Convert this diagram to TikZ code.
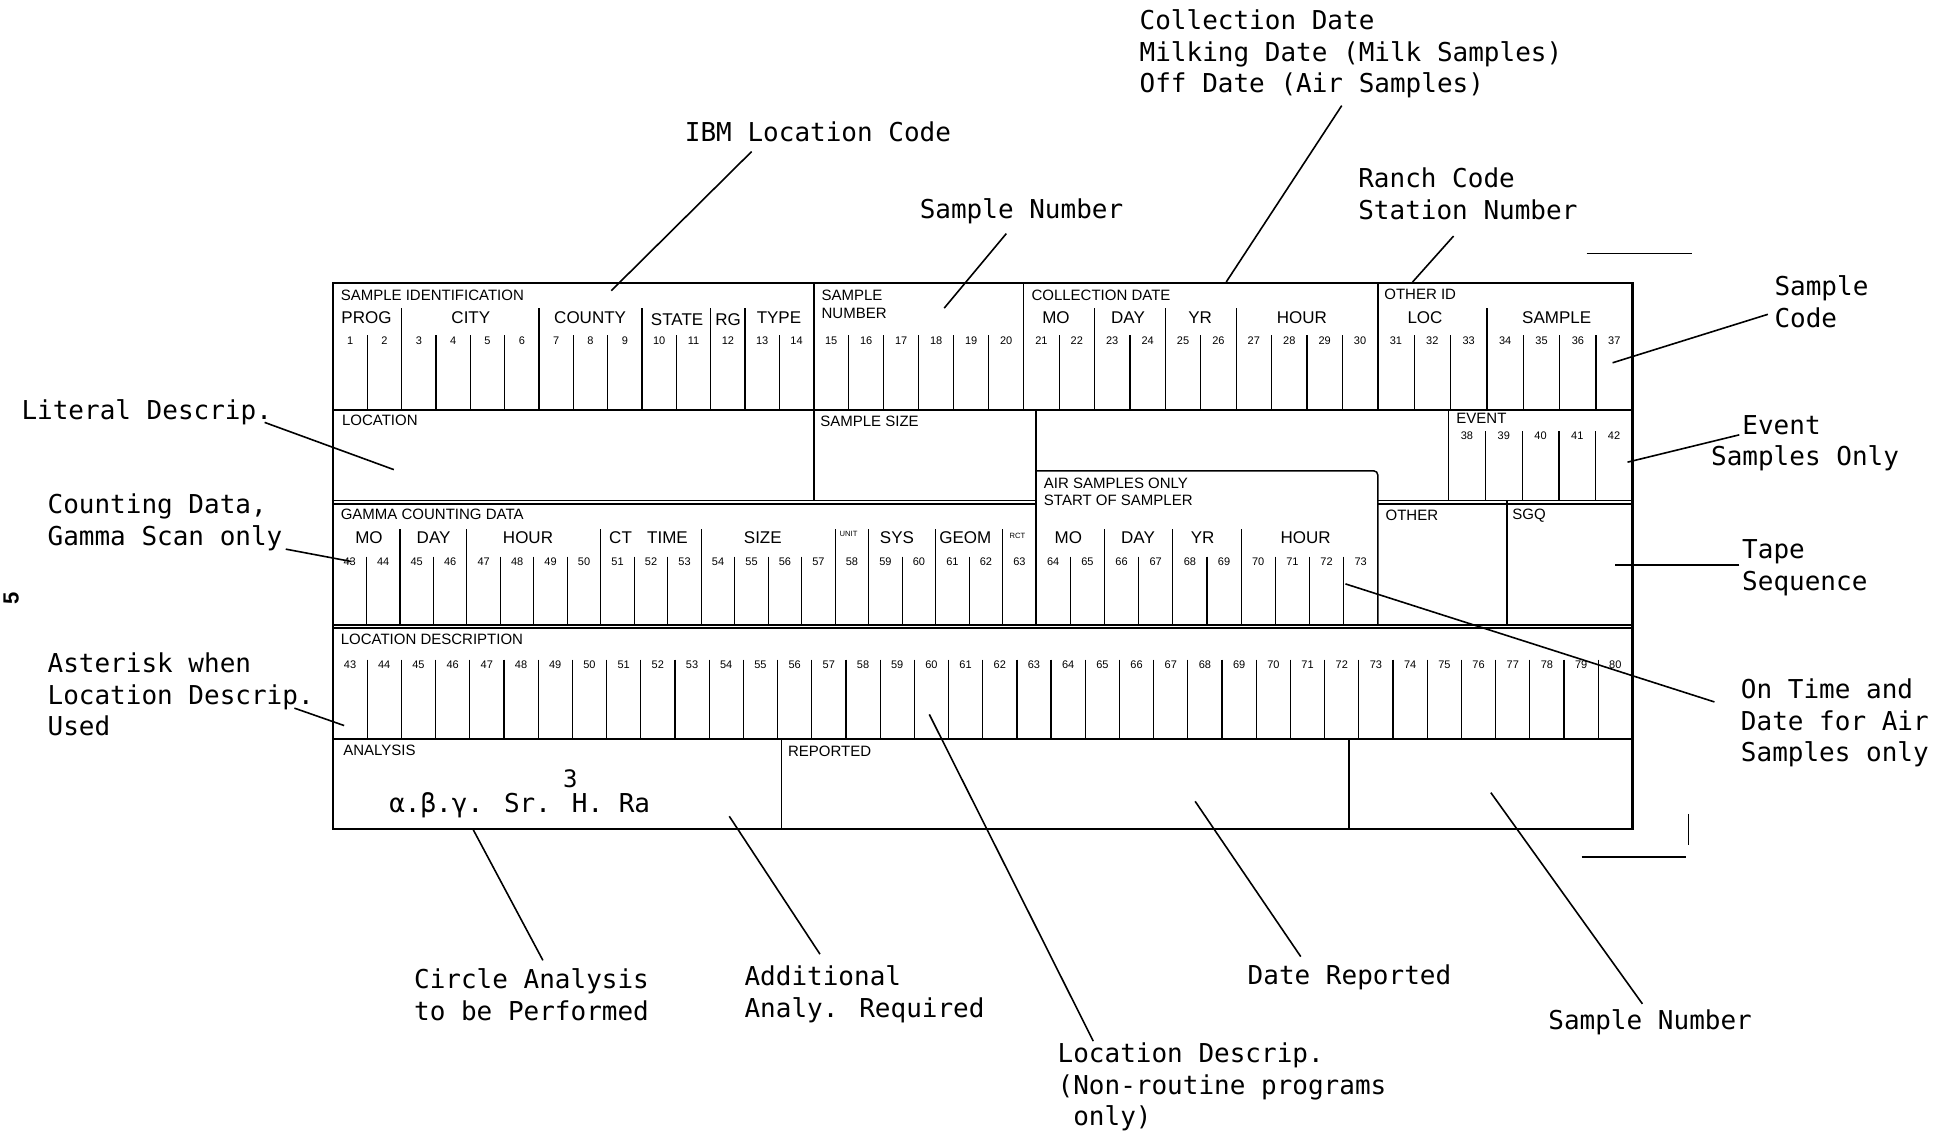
\documentclass[tikz,border=0pt]{standalone}
\usepackage{fontspec}
\newfontfamily\formfont{Liberation Sans}
\newfontfamily\typefont{DejaVu Sans Mono}
\newcommand{\cardcols}[7]{%
  \foreach \k in {1,...,#3}{%
    \pgfmathtruncatemacro{\nn}{#4+\k-1}%
    \node[num] (#7\nn) at ({#1+(\k-0.5)*#2},#5) {\nn};
  }%
  \pgfmathtruncatemacro{\nm}{#3-1}%
  \foreach \k in {1,...,\nm}{%
    \draw[colline] ({#1+\k*#2},{#5-4}) -- ({#1+\k*#2},#6);
  }%
}
\begin{document}
\begin{tikzpicture}[x=0.6212pt,y=-0.6212pt,
  outerline/.style={line width=1.1pt},
  ruleline/.style={line width=0.75pt},
  colline/.style={line width=0.6pt},
  leadline/.style={line width=0.8pt},
  note/.style={font={\typefont\fontsize{13}{15.84}\selectfont}, align=left, anchor=west, inner sep=0pt},
  hdr/.style={font={\formfont\fontsize{7.5}{8.7}\selectfont}, anchor=west, inner sep=0pt, align=left},
  grp/.style={font={\formfont\fontsize{8.5}{9}\selectfont}, inner sep=0pt},
  num/.style={font={\formfont\fontsize{5.5}{6}\selectfont}, inner sep=0pt},
  tinytxt/.style={font={\formfont\fontsize{3.8}{4}\selectfont}, inner sep=0pt},
]
\fill[white] (0,0) rectangle (1568,913);
\useasboundingbox (0,0) rectangle (1568,913);

% ---------- card outline and rows ----------
\draw[outerline] (268,228) rectangle (1314,667);
\draw[ruleline] (268,330) -- (1314,330);
\draw[ruleline] (268,403) -- (834,403) (1109,403) -- (1314,403);
\draw[ruleline] (268,405.5) -- (834,405.5) (1109,405.5) -- (1314,405.5);
\draw[ruleline] (268,503) -- (1314,503);
\draw[ruleline] (268,505.5) -- (1314,505.5);
\draw[ruleline] (268,595) -- (1314,595);

% section dividers
\draw[ruleline] (655,228) -- (655,330) (824,228) -- (824,330) (1109,228) -- (1109,330);
\draw[ruleline] (655,330) -- (655,403) (834,330) -- (834,503) (1166,330) -- (1166,403);
\draw[ruleline, rounded corners=2] (834,379) -- (1109,379) -- (1109,503);
\draw[ruleline] (1213,403) -- (1213,503);
\draw[ruleline] (629,595) -- (629,667) (1086,595) -- (1086,667);

% ---------- row 1 ----------
\node[hdr] (hsid) at (274,238) {SAMPLE IDENTIFICATION};
\node[hdr] (hsnum) at (661,245) {SAMPLE\\NUMBER};
\node[hdr] (hcoll) at (830,238) {COLLECTION DATE};
\node[hdr] (hoth) at (1114,237) {OTHER ID};
\node[grp] (gprog) at (295,256) {PROG};
\node[grp] (gcity) at (379,256) {CITY};
\node[grp] (gcounty) at (475,256) {COUNTY};
\node[grp] (gstate) at (545,257) {STATE};
\node[grp] (grg) at (586,257) {RG};
\node[grp] (gtype) at (627,256) {TYPE};
\node[grp] (gmo1) at (850,256) {MO};
\node[grp] (gday1) at (908,256) {DAY};
\node[grp] (gyr1) at (966,256) {YR};
\node[grp] (ghour1) at (1048,256) {HOUR};
\node[grp] (gloc) at (1147,256) {LOC};
\node[grp] (gsample) at (1253,256) {SAMPLE};
\cardcols{268}{27.643}{14}{1}{274}{330}{r}
\cardcols{655}{28.167}{6}{15}{274}{330}{r}
\cardcols{824}{28.5}{10}{21}{274}{330}{r}
\cardcols{1109}{29.286}{7}{31}{274}{330}{r}
\foreach \k in {2,6,9,11,12} \draw[colline] ({268+\k*27.643},248) -- ++(0,24);
\foreach \k in {2,4,6} \draw[colline] ({824+\k*28.5},248) -- ++(0,24);
\draw[colline] ({1109+3*29.286},248) -- ++(0,24);

% ---------- row 2 ----------
\node[hdr] (hloc) at (275,338) {LOCATION};
\node[hdr] (hss) at (660,339) {SAMPLE SIZE};
\node[hdr] (hev) at (1172,337) {EVENT};
\cardcols{1166}{29.6}{5}{38}{351}{403}{e}
\node[hdr] (hair) at (840,396) {AIR SAMPLES ONLY\\START OF SAMPLER};

% ---------- row 3 ----------
\node[hdr] (hgam) at (274,414) {GAMMA COUNTING DATA};
\node[grp] (gmo2) at (297,433) {MO};
\node[grp] (gday2) at (349,433) {DAY};
\node[grp] (ghour2) at (425,433) {HOUR};
\node[grp] (gct) at (522,433) {CT\hspace{0.9em}TIME};
\node[grp] (gsize) at (614,433) {SIZE};
\node[tinytxt] (gunit) at (683,430) {UNIT};
\node[grp] (gsys) at (722,433) {SYS};
\node[grp] (ggeom) at (777,433) {GEOM};
\node[tinytxt] (grct) at (819,431) {RCT};
\cardcols{268}{26.952}{21}{43}{452}{503}{g}
\foreach \k in {2,4,8,11,15,16,18,20} \draw[colline] ({268+\k*26.952},426) -- ++(0,24);
\node[grp] (gmo3) at (860,433) {MO};
\node[grp] (gday3) at (916,433) {DAY};
\node[grp] (gyr3) at (968,433) {YR};
\node[grp] (ghour3) at (1051,433) {HOUR};
\cardcols{834}{27.5}{10}{64}{452}{503}{a}
\foreach \k in {2,4,6} \draw[colline] ({834+\k*27.5},426) -- ++(0,24);
\node[hdr] (hother) at (1115,415) {OTHER};
\node[hdr] (hsgq) at (1217,415) {SGQ};

% ---------- row 4 ----------
\node[hdr] (hld) at (274,515) {LOCATION DESCRIPTION};
\cardcols{268}{27.526}{38}{43}{535}{595}{d}

% ---------- row 5 ----------
\node[hdr] (han) at (276,604) {ANALYSIS};
\node[hdr] (hrep) at (634,605) {REPORTED};
\node[font={\typefont\fontsize{13}{13}\selectfont}, anchor=west, inner sep=0pt] (greek) at (313,648)
  {α.β.γ. Sr. H. Ra};
\node[font={\typefont\fontsize{12}{12}\selectfont}, inner sep=0pt] (sup3) at (459,627) {3};

% ---------- annotations ----------
\node[note] (tcoll) at (917,43.5) {Collection Date\\Milking Date (Milk Samples)\\Off Date (Air Samples)};
\node[note] (tibm) at (551,106) {IBM Location Code};
\node[note] (tsnum) at (740,170) {Sample Number};
\node[note] (tranch) at (1093,156) {Ranch Code\\Station Number};
\node[note] (tscode) at (1428,243) {Sample\\Code};
\node[note] (tlit) at (17,332) {Literal Descrip.};
\node[note] (tevent) at (1377,356.5) {\phantom{Sa}Event\\Samples Only};
\node[note] (tcount) at (38,420.5) {Counting Data,\\Gamma Scan only};
\node[note] (ttape) at (1402,457) {Tape\\Sequence};
\node[note] (taster) at (38,559) {Asterisk when\\Location Descrip.\\Used};
\node[note] (tontime) at (1401,582) {On Time and\\Date for Air\\Samples only};
\node[note] (tcirc) at (333,800.5) {Circle Analysis\\to be Performed};
\node[note] (taddl) at (599,800.5) {Additional\\Analy. Required};
\node[note] (tdater) at (1004,787) {Date Reported};
\node[note] (tsnum2) at (1246,823) {Sample Number};
\node[note] (tlocd) at (851,875) {Location Descrip.\\(Non-routine programs\\\phantom{(}only)};
\node[font={\formfont\bfseries\fontsize{11}{11}\selectfont}, rotate=90, inner sep=0pt] (pg) at (9,482) {5};

% ---------- leader lines ----------
\coordinate (lc1) at (1080,85);   \coordinate (lc2) at (987,227);
\coordinate (li1) at (605,122);   \coordinate (li2) at (492,234);
\coordinate (ls1) at (810,188);   \coordinate (ls2) at (760,248);
\coordinate (lr1) at (1170,190);  \coordinate (lr2) at (1137,227);
\coordinate (lsc1) at (1423,253); \coordinate (lsc2) at (1298,292);
\coordinate (ll1) at (213,340);   \coordinate (ll2) at (317,378);
\coordinate (le1) at (1400,350);  \coordinate (le2) at (1310,372);
\coordinate (lg1) at (230,442);   \coordinate (lg2) at (283,452);
\coordinate (lt1) at (1400,455);  \coordinate (lt2) at (1300,455);
\coordinate (la1) at (237,570);   \coordinate (la2) at (277,584);
\coordinate (lo1) at (1380,565);  \coordinate (lo2) at (1083,470);
\coordinate (lci1) at (437,773);  \coordinate (lci2) at (381,668);
\coordinate (lad1) at (660,768);  \coordinate (lad2) at (587,657);
\coordinate (ldr1) at (1047,770); \coordinate (ldr2) at (962,645);
\coordinate (lsn1) at (1322,808); \coordinate (lsn2) at (1200,638);
\coordinate (lld1) at (880,838);  \coordinate (lld2) at (748,575);
\foreach \a/\b in {lc1/lc2, li1/li2, ls1/ls2, lr1/lr2, lsc1/lsc2, ll1/ll2, le1/le2, lg1/lg2,
  lt1/lt2, la1/la2, lo1/lo2, lci1/lci2, lad1/lad2, ldr1/ldr2, lsn1/lsn2, lld1/lld2}
  \draw[leadline] (\a) -- (\b);

% crop marks
\coordinate (cm1) at (1277,204); \coordinate (cm2) at (1362,204);
\coordinate (cm3) at (1273,690); \coordinate (cm4) at (1357,690);
\coordinate (cm5) at (1359,655); \coordinate (cm6) at (1359,680);
\draw[ruleline] (cm1) -- (cm2) (cm3) -- (cm4) (cm5) -- (cm6);
\end{tikzpicture}
\end{document}
